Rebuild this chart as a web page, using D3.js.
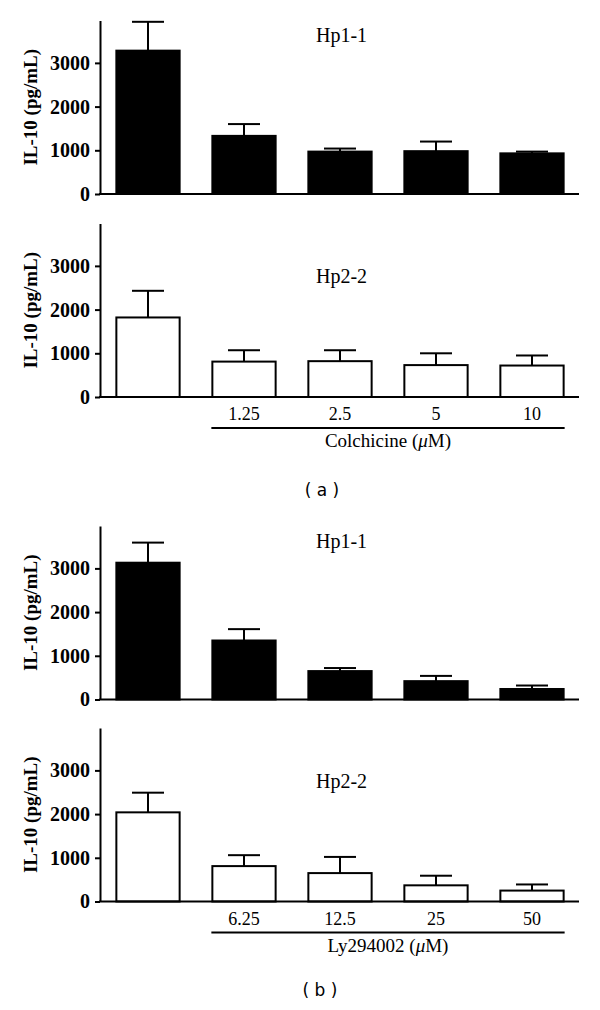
<!DOCTYPE html>
<html>
<head>
<meta charset="utf-8">
<script src="https://cdn.jsdelivr.net/npm/d3@7"></script>
<style>
  html, body { margin: 0; padding: 0; background: #fff; }
  svg { display: block; }
</style>
</head>
<body>
<svg id="chart" width="600" height="1010"></svg>
<script>
// ---- data ----
const colchicineDoses = ["", "1.25", "2.5", "5", "10"];
const ly294002Doses = ["", "6.25", "12.5", "25", "50"];
const yTicks = [0, 1000, 2000, 3000];

const colHp11Mean = [3280, 1330, 970, 980, 930];
const colHp11Err  = [660, 270, 70, 220, 40];
const colHp22Mean = [1820, 810, 820, 730, 720];
const colHp22Err  = [610, 260, 250, 270, 230];

const lyHp11Mean = [3130, 1350, 650, 420, 240];
const lyHp11Err  = [460, 260, 70, 120, 80];
const lyHp22Mean = [2040, 810, 650, 370, 250];
const lyHp22Err  = [450, 250, 370, 220, 140];

const panels = [
  { base: 194,   title: "Hp1-1", titleOff: 152, mean: colHp11Mean, err: colHp11Err, fill: "#000", labels: null },
  { base: 397,   title: "Hp2-2", titleOff: 114, mean: colHp22Mean, err: colHp22Err, fill: "#fff", labels: colchicineDoses, drug: "Colchicine" },
  { base: 699.5, title: "Hp1-1", titleOff: 152, mean: lyHp11Mean, err: lyHp11Err, fill: "#000", labels: null },
  { base: 901.5, title: "Hp2-2", titleOff: 114, mean: lyHp22Mean, err: lyHp22Err, fill: "#fff", labels: ly294002Doses, drug: "Ly294002" }
];

const svg = d3.select("#chart");
const serif = "'Liberation Serif', 'Times New Roman', serif";
const axisX = 100, axisRight = 579, plotH = 173.5, yMax = 3970;

const x = d3.scaleBand().domain(d3.range(5)).range([axisX, 580])
  .paddingInner(0.32).paddingOuter(0.16);

panels.forEach(p => {
  const y = d3.scaleLinear().domain([0, yMax]).range([p.base, p.base - plotH]);
  const g = svg.append("g");

  // bars
  g.selectAll("rect.bar").data(p.mean).join("rect")
    .attr("class", "bar")
    .attr("x", (d, i) => x(i) + 1)
    .attr("width", x.bandwidth() - 2)
    .attr("y", d => y(d))
    .attr("height", d => y(0) - y(d))
    .attr("fill", p.fill)
    .attr("stroke", "#000")
    .attr("stroke-width", 2);

  // error bars (upper)
  const eg = g.selectAll("g.err").data(p.mean).join("g").attr("class", "err");
  eg.append("line")
    .attr("x1", (d, i) => x(i) + x.bandwidth() / 2)
    .attr("x2", (d, i) => x(i) + x.bandwidth() / 2)
    .attr("y1", d => y(d))
    .attr("y2", (d, i) => y(d + p.err[i]))
    .attr("stroke", "#000").attr("stroke-width", 2);
  eg.append("line")
    .attr("x1", (d, i) => x(i) + x.bandwidth() / 2 - 16)
    .attr("x2", (d, i) => x(i) + x.bandwidth() / 2 + 16)
    .attr("y1", (d, i) => y(d + p.err[i]))
    .attr("y2", (d, i) => y(d + p.err[i]))
    .attr("stroke", "#000").attr("stroke-width", 2);

  // y axis
  const ya = g.append("g").attr("transform", `translate(${axisX},0)`)
    .call(d3.axisLeft(y).tickValues(yTicks).tickFormat(d3.format("d"))
      .tickSize(5).tickSizeOuter(0).tickPadding(5));
  ya.select(".domain").attr("stroke", "#000").attr("stroke-width", 2);
  ya.selectAll(".tick line").attr("stroke", "#000").attr("stroke-width", 2);
  ya.selectAll(".tick text").attr("font-family", serif).attr("font-weight", "bold")
    .attr("font-size", 20).attr("fill", "#000");

  // x axis line
  g.append("line").attr("x1", axisX - 1).attr("x2", axisRight)
    .attr("y1", p.base).attr("y2", p.base)
    .attr("stroke", "#000").attr("stroke-width", 2);

  // y label
  g.append("text")
    .attr("transform", `translate(37,${p.base - plotH / 2}) rotate(-90)`)
    .attr("text-anchor", "middle")
    .attr("font-family", serif).attr("font-weight", "bold").attr("font-size", 19)
    .text("IL-10 (pg/mL)");

  // title
  g.append("text").attr("x", 316).attr("y", p.base - p.titleOff)
    .attr("font-family", serif).attr("font-size", 20).text(p.title);

  // dose labels
  if (p.labels) {
    g.selectAll("text.dose").data(p.labels).join("text")
      .attr("class", "dose")
      .attr("x", (d, i) => x(i) + x.bandwidth() / 2)
      .attr("y", p.base + 23)
      .attr("text-anchor", "middle")
      .attr("font-family", serif).attr("font-size", 18)
      .text(d => d);
    g.append("line")
      .attr("x1", x(1)).attr("x2", x(4) + x.bandwidth())
      .attr("y1", p.base + 31).attr("y2", p.base + 31)
      .attr("stroke", "#000").attr("stroke-width", 2);
    const t = g.append("text")
      .attr("x", (x(1) + x(4) + x.bandwidth()) / 2)
      .attr("y", p.base + 50)
      .attr("text-anchor", "middle")
      .attr("font-family", serif).attr("font-size", 19);
    t.append("tspan").text(p.drug + " (");
    t.append("tspan").attr("font-style", "italic").text("\u03bc");
    t.append("tspan").text("M)");
  }
});

// panel letters
svg.append("text").attr("x", 322).attr("y", 496).attr("text-anchor", "middle")
  .attr("font-family", "'DejaVu Sans', sans-serif").attr("font-size", 17).text("( a )");
svg.append("text").attr("x", 320).attr("y", 996).attr("text-anchor", "middle")
  .attr("font-family", "'DejaVu Sans', sans-serif").attr("font-size", 17).text("( b )");
</script>
</body>
</html>
